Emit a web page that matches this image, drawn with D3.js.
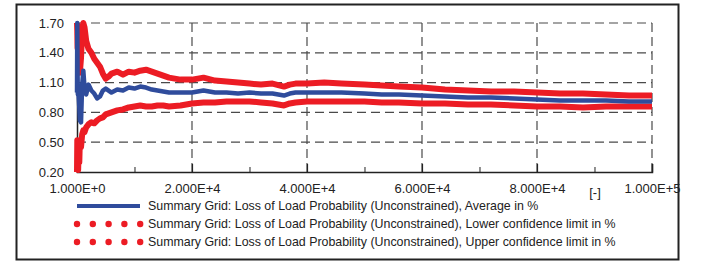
<!DOCTYPE html>
<html>
<head>
<meta charset="utf-8">
<script src="https://cdn.jsdelivr.net/npm/d3@7"></script>
<style>
  body { margin: 0; background: #fff; }
  svg text { font-family: "Liberation Sans", Arial, sans-serif; fill: #222; }
</style>
</head>
<body>
<div id="app"></div>
<script>
const w = 702;
const h = 266;

// iterations (x) and the three series (%)
const iterations = [1, 50, 100, 150, 200, 300, 400, 500, 700, 900, 1100, 1300, 1600, 2000, 2500, 3000, 3500, 4000, 4500, 5000,
  5500, 6000, 7000, 8000, 9000, 10000, 11000, 12000, 13000, 14000, 15000, 16000, 18000, 20000, 22000, 24000, 26000, 28000, 30000, 32000,
  34000, 36000, 37000, 38000, 40000, 43000, 46000, 50000, 53000, 56000, 60000, 64000, 68000, 72000, 76000, 80000, 84000, 88000, 92000, 96000, 100000];

const upperLimit = [1.70, 1.62, 1.45, 1.55, 1.40, 1.30, 1.22, 1.20, 1.35, 1.62, 1.70, 1.66, 1.52, 1.44, 1.40, 1.34, 1.30, 1.26, 1.19, 1.14,
  1.16, 1.19, 1.21, 1.18, 1.21, 1.20, 1.22, 1.23, 1.21, 1.19, 1.17, 1.15, 1.13, 1.13, 1.15, 1.12, 1.11, 1.10, 1.09, 1.08,
  1.09, 1.06, 1.08, 1.09, 1.09, 1.10, 1.09, 1.08, 1.07, 1.06, 1.05, 1.03, 1.02, 1.01, 1.01, 1.00, 0.99, 0.99, 0.98, 0.97, 0.97];

const average = [1.00, 1.70, 1.20, 0.98, 1.05, 0.95, 0.85, 0.72, 0.70, 1.08, 1.22, 1.06, 0.98, 1.08, 1.02, 0.99, 0.94, 0.96, 1.02, 1.04,
  1.02, 1.00, 1.03, 1.02, 1.05, 1.04, 1.06, 1.05, 1.03, 1.02, 1.01, 1.00, 1.00, 1.00, 1.02, 1.00, 1.00, 0.99, 1.00, 0.99,
  0.99, 0.97, 0.99, 1.00, 1.00, 1.00, 1.00, 0.99, 0.98, 0.98, 0.97, 0.96, 0.95, 0.95, 0.94, 0.93, 0.92, 0.92, 0.92, 0.91, 0.91];

const lowerLimit = [0.20, 0.52, 0.25, 0.48, 0.22, 0.45, 0.30, 0.52, 0.45, 0.58, 0.62, 0.60, 0.65, 0.68, 0.70, 0.69, 0.72, 0.74, 0.75, 0.78,
  0.79, 0.80, 0.82, 0.83, 0.85, 0.86, 0.87, 0.86, 0.86, 0.87, 0.87, 0.86, 0.87, 0.89, 0.90, 0.90, 0.91, 0.91, 0.91, 0.90,
  0.89, 0.87, 0.89, 0.90, 0.91, 0.91, 0.91, 0.91, 0.90, 0.90, 0.89, 0.89, 0.88, 0.88, 0.87, 0.86, 0.86, 0.85, 0.86, 0.86, 0.86];

const xTicks = [1, 20000, 40000, 60000, 80000, 100000];
const xTickLabels = ["1.000E+0", "2.000E+4", "4.000E+4", "6.000E+4", "8.000E+4", "1.000E+5"];
const xMinor = [10000, 30000, 50000, 70000, 90000];
const yTicks = [0.20, 0.50, 0.80, 1.10, 1.40, 1.70];
const xUnit = "[-]";

const legendLabels = [
  "Summary Grid: Loss of Load Probability (Unconstrained), Average in %",
  "Summary Grid: Loss of Load Probability (Unconstrained), Lower confidence limit in %",
  "Summary Grid: Loss of Load Probability (Unconstrained), Upper confidence limit in %"
];

const red = "#ec1c24";
const blue = "#2f4c9c";
const gridColor = "#4a4a4a";

const svg = d3.select('#app')
  .append('svg')
  .attr('width', w)
  .attr('height', h);

// outer frame
svg.append('rect')
  .attr('x', 16.5).attr('y', 4.5)
  .attr('width', 662).attr('height', 255)
  .attr('fill', 'none')
  .attr('stroke', '#222')
  .attr('stroke-width', 2);

const x = d3.scaleLinear().domain([1, 100000]).range([77, 652]);
const y = d3.scaleLinear().domain([0.20, 1.70]).range([172, 23]);

//////////GRID//////////

svg.append('g')
  .selectAll('line')
  .data(yTicks.slice(1))
  .join('line')
  .attr('x1', x.range()[0]).attr('x2', x.range()[1])
  .attr('y1', d => y(d)).attr('y2', d => y(d))
  .attr('stroke', gridColor)
  .attr('stroke-width', 1.2)
  .attr('stroke-dasharray', '9,5');

svg.append('g')
  .selectAll('line')
  .data(xTicks.slice(1))
  .join('line')
  .attr('x1', d => x(d)).attr('x2', d => x(d))
  .attr('y1', y.range()[0]).attr('y2', y.range()[1])
  .attr('stroke', gridColor)
  .attr('stroke-width', 1.2)
  .attr('stroke-dasharray', '9,5');

//////////AXES//////////

const xAxis = svg.append('g')
  .attr('transform', `translate(0,${y(0.20)})`)
  .call(d3.axisBottom(x)
    .tickValues(xTicks)
    .tickSize(-8)
    .tickPadding(12)
    .tickFormat((d, i) => xTickLabels[i]));

xAxis.select('.domain').attr('stroke', '#222').attr('stroke-width', 1.5);
xAxis.selectAll('.tick line').attr('stroke', '#222').attr('stroke-width', 1.2);
xAxis.selectAll('text').attr('font-size', '13px').attr('fill', '#222');

const xMinorAxis = svg.append('g')
  .attr('transform', `translate(0,${y(0.20)})`)
  .call(d3.axisBottom(x).tickValues(xMinor).tickSize(-5).tickFormat((d, i) => i === xMinor.length - 1 ? xUnit : ""));
xMinorAxis.select('.domain').remove();
xMinorAxis.selectAll('.tick line').attr('stroke', '#222');
xMinorAxis.selectAll('text').attr('font-size', '13px').attr('fill', '#222').attr('dy', '1.71em');

const yAxis = svg.append('g')
  .attr('transform', `translate(${x(1)},0)`)
  .call(d3.axisLeft(y)
    .tickValues(yTicks)
    .tickSize(0)
    .tickPadding(13)
    .tickFormat(d3.format('.2f')));

yAxis.select('.domain').attr('stroke', '#222').attr('stroke-width', 1.5);
yAxis.selectAll('text').attr('font-size', '13px').attr('fill', '#222');

//////////SERIES//////////

const line = d3.line()
  .x((d, i) => x(iterations[i]))
  .y(d => y(d));

svg.append('path')
  .datum(upperLimit)
  .attr('fill', 'none')
  .attr('stroke', red)
  .attr('stroke-width', 6)
  .attr('stroke-linejoin', 'round')
  .attr('d', line);

svg.append('path')
  .datum(lowerLimit)
  .attr('fill', 'none')
  .attr('stroke', red)
  .attr('stroke-width', 6)
  .attr('stroke-linejoin', 'round')
  .attr('d', line);

svg.append('path')
  .datum(average)
  .attr('fill', 'none')
  .attr('stroke', blue)
  .attr('stroke-width', 4.5)
  .attr('stroke-linejoin', 'round')
  .attr('d', line);

//////////LEGEND//////////

const legend = svg.append('g');
const rowY = [206, 224, 242];

legend.append('line')
  .attr('x1', 77).attr('x2', 140)
  .attr('y1', rowY[0]).attr('y2', rowY[0])
  .attr('stroke', blue)
  .attr('stroke-width', 4);

[1, 2].forEach(r => {
  legend.append('g')
    .selectAll('circle')
    .data(d3.range(5))
    .join('circle')
    .attr('cx', d => 77 + d * 15.8)
    .attr('cy', rowY[r])
    .attr('r', 3.2)
    .attr('fill', red);
});

legend.selectAll('text')
  .data(legendLabels)
  .join('text')
  .attr('x', 148)
  .attr('y', (d, i) => rowY[i])
  .attr('dy', '0.35em')
  .attr('font-size', '12.4px')
  .text(d => d);
</script>
</body>
</html>
